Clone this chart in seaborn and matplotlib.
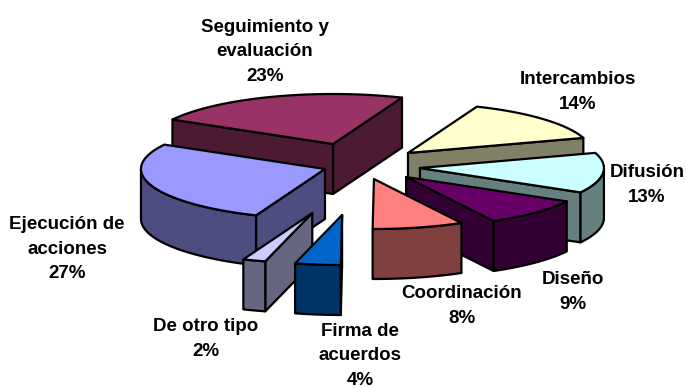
import numpy as np
import matplotlib
matplotlib.use("Agg")
import matplotlib.pyplot as plt
import seaborn as sns

# ---- data (clockwise from the first slice) ----
names = ["Intercambios", "Difusión", "Diseño", "Coordinación",
         "Firma de\nacuerdos", "De otro tipo", "Ejecución de\nacciones",
         "Seguimiento y\nevaluación"]
values = [14, 13, 9, 8, 4, 2, 27, 23]
hex_colors = ["#FFFFCC", "#CCFFFF", "#660066", "#FF8080",
              "#0066CC", "#CCCCFF", "#9999FF", "#993366"]

# ---- layout ----
W, H = 686, 388
START = 22.0
RX, RY, DEPTH = 184.0, 50.0, 50.0
CENTER = (373.0, 165.0)
# per-slice explosion, as fractions of the radii (x right, y up)
explode_x = [0.19, 0.255, 0.18, 0.005, -0.168, -0.33, -0.261, -0.217]
explode_y = [0.24, -0.06, -0.24, -0.28, -1.0, -0.96, -0.08, 0.42]
label_pos = [(578, 92), (647, 185), (573, 292), (462, 306),
             (360, 356), (206, 339), (67, 249), (265, 52)]
draw_order = [7, 0, 1, 6, 2, 5, 4, 3]

sns.set_theme(style="white")
plt.rcParams["font.family"] = ["Liberation Sans", "DejaVu Sans"]
palette = sns.color_palette(hex_colors)

fig = plt.figure(figsize=(W / 100, H / 100), dpi=100)
ax = fig.add_axes([0, 0, 1, 1])
ax.set_xlim(0, W)
ax.set_ylim(H, 0)
ax.axis("off")

fractions = np.array(values) / np.sum(values)
edges = START + 360 * np.concatenate([[0], np.cumsum(fractions)])
EDGE = dict(edgecolor="black", linewidth=1.6, joinstyle="round")


def rim(t_deg, apex):
    t = np.radians(t_deg)
    return np.column_stack([apex[0] + RX * np.sin(t), apex[1] - RY * np.cos(t)])


def face(points, color):
    ax.fill(points[:, 0], points[:, 1], facecolor=color, **EDGE)


def drop(points):
    return points + np.array([0, DEPTH])


for i in draw_order:
    t0, t1 = edges[i], edges[i + 1]
    apex = (CENTER[0] + explode_x[i] * RX, CENTER[1] - explode_y[i] * RY)
    base = np.array(palette[i])
    side = base * 0.5
    ts = np.linspace(t0, t1, 80)
    arc = rim(ts, apex)
    apex_pt = np.array([apex])
    # cut faces
    if np.sin(np.radians(t0)) < 0:
        p = rim(np.array([t0]), apex)
        face(np.vstack([apex_pt, p, drop(p), drop(apex_pt)]), side)
    if np.sin(np.radians(t1)) > 0:
        p = rim(np.array([t1]), apex)
        face(np.vstack([apex_pt, p, drop(p), drop(apex_pt)]), side)
    # outer wall: only the part facing the viewer
    front = ts[np.cos(np.radians(ts)) < 0]
    if front.size > 1:
        wall = rim(front, apex)
        face(np.vstack([wall, drop(wall)[::-1]]), side)
    # top
    face(np.vstack([apex_pt, arc]), base)

for name, v, (x, y) in zip(names, values, label_pos):
    ax.text(x, y, f"{name}\n{v}%", ha="center", va="center", fontsize=13.5,
            fontweight="bold", color="black", linespacing=1.58)

fig.savefig("out.png", dpi=100, facecolor="white")
